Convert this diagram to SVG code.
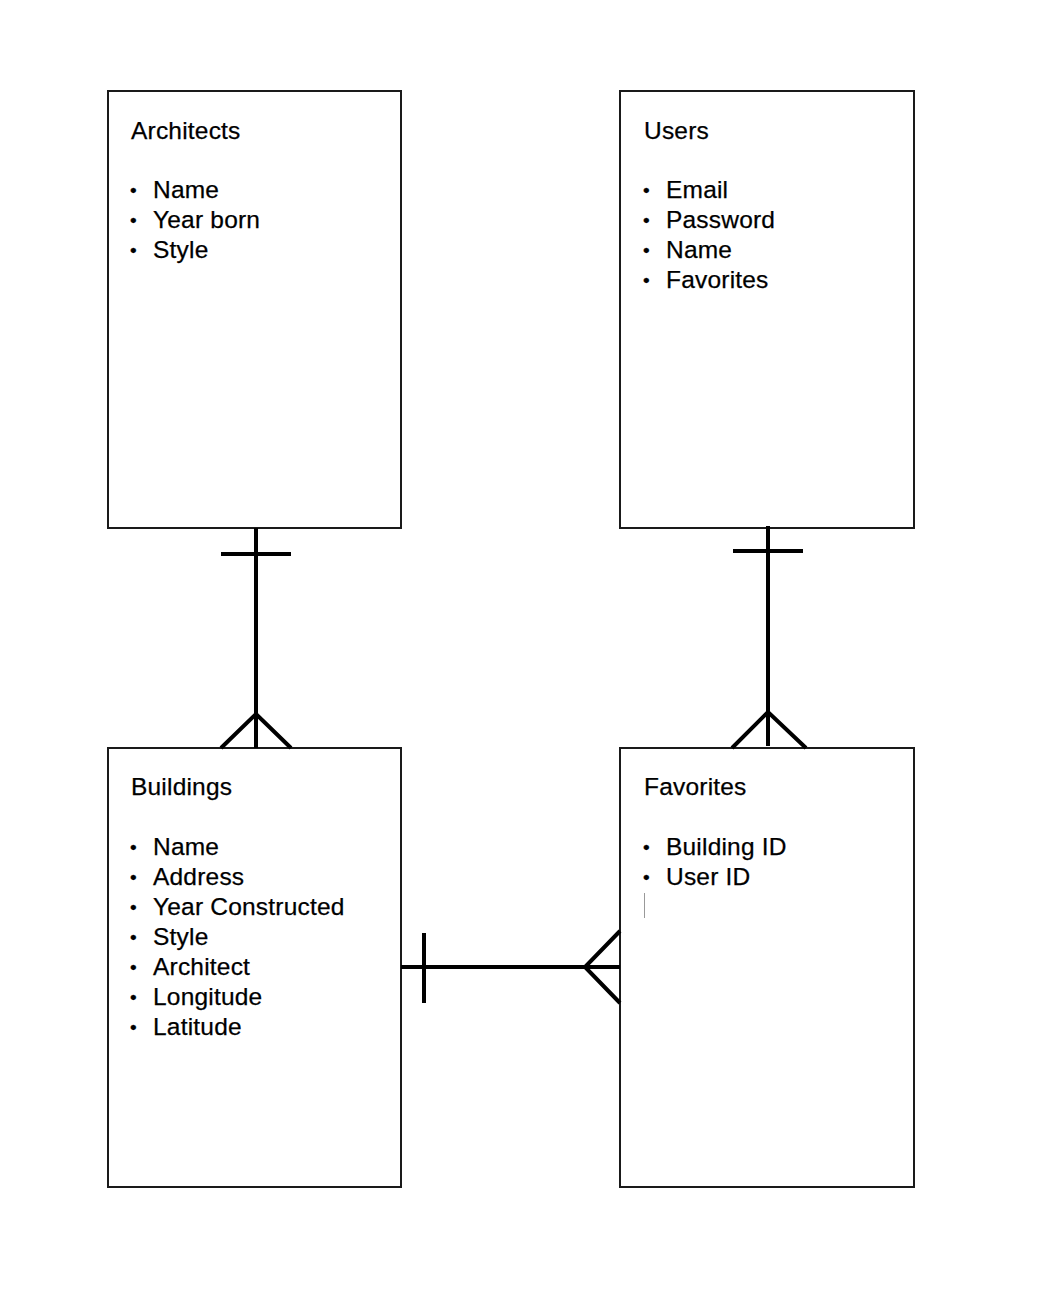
<svg xmlns="http://www.w3.org/2000/svg" width="1054" height="1300" viewBox="0 0 1054 1300">
<style>
.box{fill:#fff;stroke:#1a1a1a;stroke-width:2}
.t{font-family:"Liberation Sans",Arial,Helvetica,sans-serif;font-size:24.5px;letter-spacing:0.2px;fill:#000;stroke:#000;stroke-width:0.25}
.b{font-family:"Liberation Sans",Arial,Helvetica,sans-serif;font-size:19px;fill:#000;stroke:#000;stroke-width:0.3}
.c{fill:none;stroke:#000;stroke-width:4}
</style>
<rect width="1054" height="1300" fill="#fff"/>
<g id="architects">
<rect class="box" x="108" y="91" width="293" height="437"/>
<text class="t" x="131" y="139">Architects</text>
<text class="b" x="130" y="197">•</text><text class="t" x="153" y="198">Name</text>
<text class="b" x="130" y="227">•</text><text class="t" x="153" y="228">Year born</text>
<text class="b" x="130" y="257">•</text><text class="t" x="153" y="258">Style</text>
</g>
<g id="users">
<rect class="box" x="620" y="91" width="294" height="437"/>
<text class="t" x="644" y="139">Users</text>
<text class="b" x="643" y="197">•</text><text class="t" x="666" y="198">Email</text>
<text class="b" x="643" y="227">•</text><text class="t" x="666" y="228">Password</text>
<text class="b" x="643" y="257">•</text><text class="t" x="666" y="258">Name</text>
<text class="b" x="643" y="287">•</text><text class="t" x="666" y="288">Favorites</text>
</g>
<g id="buildings">
<rect class="box" x="108" y="748" width="293" height="439"/>
<text class="t" x="131" y="795">Buildings</text>
<text class="b" x="130" y="854">•</text><text class="t" x="153" y="855">Name</text>
<text class="b" x="130" y="884">•</text><text class="t" x="153" y="885">Address</text>
<text class="b" x="130" y="914">•</text><text class="t" x="153" y="915">Year Constructed</text>
<text class="b" x="130" y="944">•</text><text class="t" x="153" y="945">Style</text>
<text class="b" x="130" y="974">•</text><text class="t" x="153" y="975">Architect</text>
<text class="b" x="130" y="1004">•</text><text class="t" x="153" y="1005">Longitude</text>
<text class="b" x="130" y="1034">•</text><text class="t" x="153" y="1035">Latitude</text>
</g>
<g id="favorites">
<rect class="box" x="620" y="748" width="294" height="439"/>
<text class="t" x="644" y="795">Favorites</text>
<text class="b" x="643" y="854">•</text><text class="t" x="666" y="855">Building ID</text>
<text class="b" x="643" y="884">•</text><text class="t" x="666" y="885">User ID</text>
<line x1="644.5" y1="893" x2="644.5" y2="918" stroke="#999" stroke-width="1"/>
</g>
<g id="connectors">
<line class="c" x1="256" y1="528" x2="256" y2="748"/>
<line class="c" x1="221" y1="554" x2="291" y2="554"/>
<polyline class="c" points="221,748 256,714 291,748"/>
<line class="c" x1="768" y1="526" x2="768" y2="746"/>
<line class="c" x1="733" y1="551" x2="803" y2="551"/>
<polyline class="c" points="732,748 768,712 806,748"/>
<line class="c" x1="401" y1="967" x2="620" y2="967"/>
<line class="c" x1="424" y1="933" x2="424" y2="1003"/>
<polyline class="c" points="620,931 585,967 620,1003"/>
</g>
</svg>
